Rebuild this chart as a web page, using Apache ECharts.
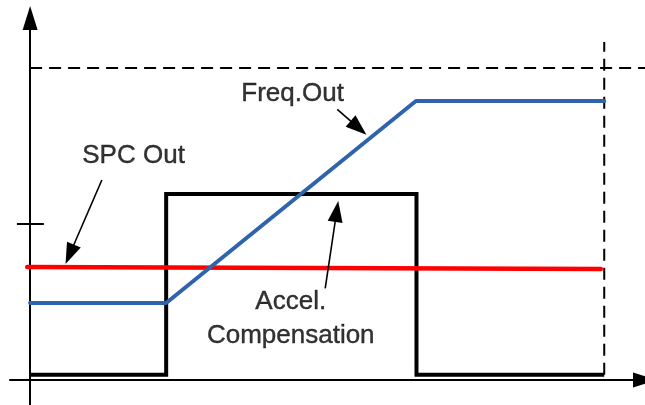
<!DOCTYPE html>
<html>
<head>
<meta charset="utf-8">
<script src="https://cdn.jsdelivr.net/npm/echarts@6/dist/echarts.min.js"></script>
<style>
  html, body { margin: 0; padding: 0; background: #fff; }
  #main { width: 645px; height: 405px; }
</style>
</head>
<body>
<div id="main"></div>
<script>
// schematic units: x = time (100 = end of trace), y = level (100 = max frequency)
const pulseX = [0, 23.7, 23.7, 67.3, 67.3, 100];
const pulseY = [1.7, 1.7, 59.6, 59.6, 1.7, 1.7];
const freqX = [0, 23.7, 67.2, 100];
const freqY = [24.7, 24.7, 89.4, 89.4];
const spcX = [-0.5, 99.4];
const spcY = [36.2, 35.6];
const maxLevel = 100;
const traceEnd = 100;
const tickLevel = 50;

const zip = (xs, ys) => xs.map((x, i) => [x, ys[i]]);

// axis ranges
const xMin = -3.5, xMax = 107.1;
const yMin = -8, yMax = 116;

const font = '"Liberation Sans", Arial, sans-serif';

// arrow helper (markLine with triangle head, head centre at "to")
function arrow(from, to) {
  return [
    { coord: from, symbol: 'none' },
    { coord: to, symbol: 'triangle', symbolSize: [15, 21] }
  ];
}
const arrowStyle = {
  silent: true,
  symbol: ['none', 'triangle'],
  label: { show: false },
  lineStyle: { color: '#000', width: 1.6, type: 'solid' },
  emphasis: { disabled: true },
  animation: false
};

let myChart = echarts.init(document.getElementById('main'));
let option = {
  animation: false,
  grid: { left: 10, right: 0, top: 18, bottom: 0 },
  xAxis: {
    type: 'value',
    min: xMin,
    max: xMax,
    axisLine: {
      onZero: true,
      symbol: ['none', 'triangle'],
      symbolSize: [15, 24],
      lineStyle: { color: '#000', width: 2 }
    },
    axisTick: { show: false },
    axisLabel: { show: false },
    splitLine: { show: false }
  },
  yAxis: {
    type: 'value',
    min: yMin,
    max: yMax,
    axisLine: {
      show: true,
      onZero: true,
      symbol: ['none', 'triangle'],
      symbolSize: [15, 24],
      lineStyle: { color: '#000', width: 2 }
    },
    axisTick: { show: false },
    axisLabel: { show: false },
    splitLine: { show: false }
  },
  series: [
    // dashed max level
    {
      type: 'line', symbol: 'none', silent: true,
      data: [[0, maxLevel], [xMax, maxLevel]],
      lineStyle: { color: '#000', width: 2, type: [12, 7] }
    },
    // dashed end of trace
    {
      type: 'line', symbol: 'none', silent: true,
      data: [[traceEnd, 1.7], [traceEnd, 108.3]],
      lineStyle: { color: '#000', width: 2, type: [12, 7] }
    },
    // tick on y axis
    {
      type: 'line', symbol: 'none', silent: true,
      data: [[-2.3, tickLevel], [2.4, tickLevel]],
      lineStyle: { color: '#000', width: 2 }
    },
    // Accel. Compensation
    {
      name: 'Accel. Compensation',
      type: 'line', symbol: 'none',
      data: zip(pulseX, pulseY),
      lineStyle: { color: '#000', width: 4, join: 'miter' },
      markLine: Object.assign({ data: [arrow([51.4, 29.4], [53.4, 54.0])] }, arrowStyle)
    },
    // SPC Out
    {
      name: 'SPC Out',
      type: 'line', symbol: 'none',
      data: zip(spcX, spcY),
      lineStyle: { color: '#ff0000', width: 4.5, cap: 'round' },
      markLine: Object.assign({ data: [arrow([12.5, 64.1], [6.9, 40.3])] }, arrowStyle)
    },
    // Freq.Out
    {
      name: 'Freq.Out',
      type: 'line', symbol: 'none',
      data: zip(freqX, freqY),
      lineStyle: { color: '#2f64ad', width: 4, cap: 'round' },
      markLine: Object.assign({ data: [arrow([53.5, 86.7], [57.2, 80.8])] }, arrowStyle)
    },
    // text labels
    {
      type: 'scatter', silent: true,
      symbolSize: 1,
      itemStyle: { color: 'rgba(0,0,0,0)' },
      label: {
        show: true,
        formatter: p => p.name,
        color: '#000',
        textBorderColor: '#000',
        textBorderWidth: 0.4,
        fontFamily: font,
        fontSize: 26
      },
      data: [
        { name: 'Freq.Out', value: [36.7, 91.6], label: { position: 'right', distance: 0, color: '#000' } },
        { name: 'SPC Out', value: [9.0, 71.9], label: { position: 'right', distance: 0, color: '#000' } },
        { name: 'Accel.\nCompensation', value: [45.4, 19.6], label: { position: 'inside', align: 'center', lineHeight: 34, color: '#000' } }
      ]
    }
  ]
};
option && myChart.setOption(option);
</script>
</body>
</html>
